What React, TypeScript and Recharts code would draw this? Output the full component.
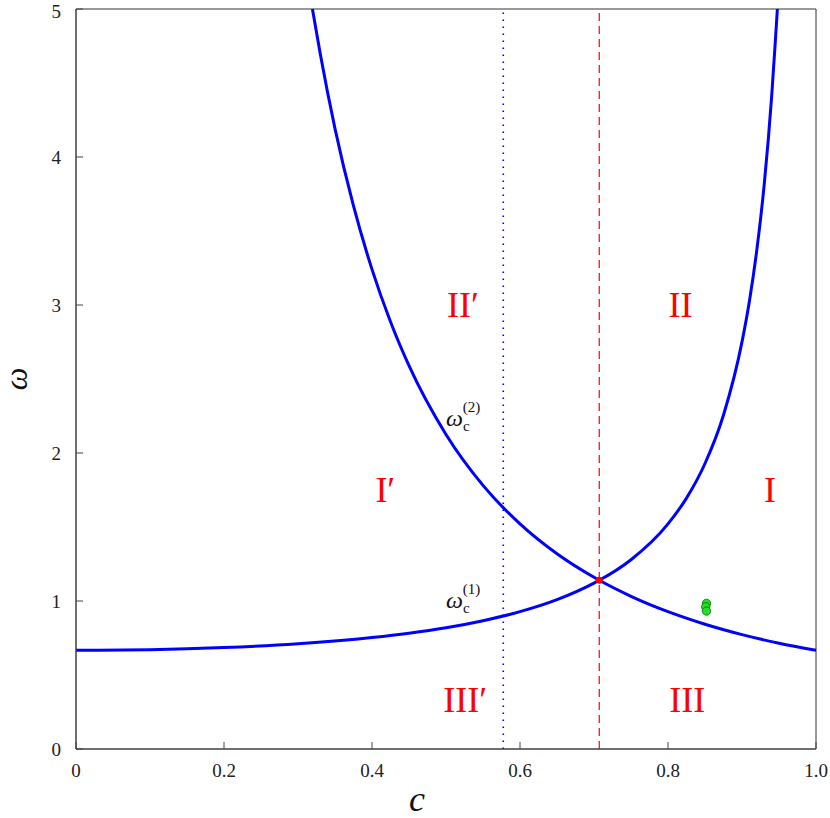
import { ComposedChart, Line, Scatter, XAxis, YAxis, ReferenceLine, ReferenceDot, ReferenceArea } from "recharts";

// rising branch  omega_c^(1)
const w1C = [0, 0.1, 0.2, 0.3, 0.4, 0.45, 0.5, 0.55, 0.6, 0.65, 0.7, 0.7071, 0.75, 0.8, 0.825, 0.85, 0.875, 0.9, 0.91, 0.92, 0.93, 0.94, 0.945, 0.9478];
const w1W = [0.667, 0.671, 0.685, 0.711, 0.753, 0.782, 0.819, 0.867, 0.928, 1.009, 1.121, 1.14, 1.279, 1.521, 1.695, 1.929, 2.257, 2.751, 3.026, 3.371, 3.813, 4.404, 4.78, 5.0];

// falling branch  omega_c^(2)
const w2C = [0.3195, 0.33, 0.35, 0.375, 0.4, 0.425, 0.45, 0.5, 0.55, 0.6, 0.65, 0.7, 0.7071, 0.75, 0.8, 0.85, 0.9, 0.95, 1.0];
const w2W = [5.0, 4.699, 4.192, 3.669, 3.241, 2.887, 2.59, 2.125, 1.781, 1.521, 1.319, 1.16, 1.14, 1.032, 0.928, 0.843, 0.773, 0.715, 0.667];

// green markers
const dotC = [0.852, 0.851, 0.852];
const dotW = [0.984, 0.961, 0.932];

const crossC = 0.7071;
const crossW = 1.14;
const dottedC = 0.5774;

const regionNames = ["II\u2032", "II", "I\u2032", "I", "III\u2032", "III"];
const regionC = [0.523, 0.817, 0.418, 0.938, 0.526, 0.826];
const regionW = [3.0, 3.0, 1.75, 1.75, 0.33, 0.33];

const xTicks = [0, 0.2, 0.4, 0.6, 0.8, 1.0];
const xTickLabels = ["0", "0.2", "0.4", "0.6", "0.8", "1.0"];
const yTicks = [0, 1, 2, 3, 4, 5];

const branch1 = w1C.map((c, i) => ({ c, w: w1W[i] }));
const branch2 = w2C.map((c, i) => ({ c, w: w2W[i] }));
const markers = dotC.map((c, i) => ({ c, w: dotW[i] }));

const serif = "'Liberation Serif', 'DejaVu Serif', serif";

function CurveLabel({ cx, cy, idx }: any) {
  return (
    <text x={cx} y={cy} fontFamily={serif} fill="#111">
      <tspan fontSize={24} fontStyle="italic">ω</tspan>
      <tspan fontSize={15} dy={5}>c</tspan>
      <tspan fontSize={15} dx={-7} dy={-19}>({idx})</tspan>
    </text>
  );
}

export default function App() {
  return (
    <div style={{ position: "absolute", left: 0, top: 0, background: "#fff", fontFamily: serif }}>
      <ComposedChart width={830} height={818} margin={{ top: 9, right: 14, bottom: 9, left: 16 }}>
        <XAxis
          type="number"
          dataKey="c"
          domain={[0, 1]}
          ticks={xTicks}
          tickFormatter={(v: number) => xTickLabels[xTicks.indexOf(v)] ?? String(v)}
          height={60}
          tickSize={-7}
          tickMargin={22}
          stroke="#444"
          tick={{ fill: "#222", fontSize: 19, fontFamily: serif }}
          label={({ viewBox }: any) => (
            <text
              x={viewBox.x + viewBox.width / 2 - 29}
              y={viewBox.y + 62}
              fontSize={36}
              fontStyle="italic"
              fontFamily={serif}
              textAnchor="middle"
              fill="#111"
            >
              c
            </text>
          )}
        />
        <YAxis
          type="number"
          dataKey="w"
          domain={[0, 5]}
          ticks={yTicks}
          width={60}
          tickSize={-7}
          tickMargin={22}
          stroke="#444"
          tick={{ fill: "#222", fontSize: 19, fontFamily: serif }}
          label={({ viewBox }: any) => {
            const x = viewBox.x;
            const y = viewBox.y + viewBox.height / 2;
            return (
              <text
                x={x}
                y={y}
                transform={`rotate(-90 ${x} ${y})`}
                fontSize={32}
                fontStyle="italic"
                fontFamily={serif}
                textAnchor="middle"
                dominantBaseline="central"
                fill="#111"
              >
                ω
              </text>
            );
          }}
        />
        <ReferenceArea x1={0} x2={1} y1={0} y2={5} fill="none" stroke="#333" strokeWidth={1} />
        <ReferenceLine x={dottedC} stroke="#0000ff" strokeWidth={1.6} strokeDasharray="1.5 5.5" />
        <ReferenceLine x={crossC} stroke="#ff0000" strokeWidth={1.2} strokeDasharray="8 5" />
        <Line data={branch1} dataKey="w" type="monotone" stroke="#0000ff" strokeWidth={3} dot={false} isAnimationActive={false} />
        <Line data={branch2} dataKey="w" type="monotone" stroke="#0000ff" strokeWidth={3} dot={false} isAnimationActive={false} />
        <ReferenceDot x={crossC} y={crossW} r={3.5} fill="#ff0000" stroke="none" />
        <Scatter
          data={markers}
          dataKey="w"
          isAnimationActive={false}
          shape={(p: any) => <circle cx={p.cx} cy={p.cy} r={4.2} fill="#22e022" stroke="#0a6a0a" strokeWidth={0.8} />}
        />
        {regionNames.map((name, i) => (
          <ReferenceDot
            key={name}
            x={regionC[i]}
            y={regionW[i]}
            r={0}
            shape={(p: any) => (
              <text x={p.cx} y={p.cy + 12} fontSize={36} fontFamily={serif} fill="#ff0000" textAnchor="middle">
                {name}
              </text>
            )}
          />
        ))}
        <ReferenceDot x={0.5} y={2.18} r={0} shape={(p: any) => <CurveLabel cx={p.cx} cy={p.cy} idx={2} />} />
        <ReferenceDot x={0.5} y={0.953} r={0} shape={(p: any) => <CurveLabel cx={p.cx} cy={p.cy} idx={1} />} />
      </ComposedChart>
    </div>
  );
}
